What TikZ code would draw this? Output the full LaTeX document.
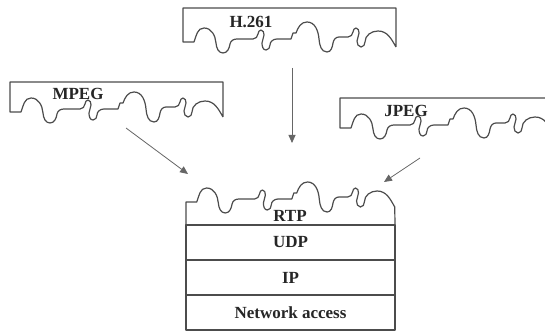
\documentclass[tikz,border=0pt]{standalone}
\usepackage{fontspec}
\setmainfont{Liberation Serif}
\usetikzlibrary{positioning, arrows.meta}

\newcommand{\tornedge}{-- (11,0) to[out=70,in=180] (21,-14) to[out=0,in=95] (33,1)
  to[out=-85,in=180] (40,11) to[out=0,in=-100] (47,2) to[out=80,in=180] (54,-3) -- (70,-3)
  to[out=0,in=-100] (75,-8) to[out=80,in=180] (78,-12) to[out=0,in=90] (81,-7)
  to[out=-90,in=90] (79,1) to[out=-90,in=180] (83,8) to[out=0,in=-90] (87,3)
  to[out=90,in=180] (94,-3) -- (108,-3) -- (110,-9) -- (113,-9)
  to[out=70,in=180] (124,-20) to[out=0,in=95] (136,-3) to[out=-85,in=180] (144,10)
  to[out=0,in=-100] (150,1) to[out=80,in=180] (156,-5) -- (165,-5)
  to[out=0,in=-100] (170,-10) to[out=80,in=180] (173,-14) to[out=0,in=90] (176,-9)
  to[out=-90,in=90] (174,-1) to[out=-90,in=180] (178,5) to[out=0,in=-90] (182,0)
  to[out=90,in=180] (195,-11) to[out=0,in=120] (213,5)}

\begin{document}
\begin{tikzpicture}[x=1pt, y=-1pt,
    ink/.style={draw=black!70, line width=1.2pt, line join=round},
    codec/.style={font=\bfseries\fontsize{17}{20}\selectfont, text=black!85, inner sep=0pt},
    stacklayer/.style={ink, rectangle, minimum width=209pt, minimum height=35pt,
    outer sep=0pt, inner sep=0pt, font=\bfseries\fontsize{17}{20}\selectfont, text=black!85},
    arrow/.style={draw=black!60, line width=0.8pt, -{Triangle[length=8pt, width=7pt]}}
]
\useasboundingbox (0,0) rectangle (545,331);
\fill[white] (0,0) rectangle (545,331);
\clip (0,0) rectangle (545,331);

\begin{scope}[shift={(183,42)}]
\draw[ink] (213,5) -- (213,-34) -- (0,-34) -- (0,0) \tornedge;
\node[codec] (h261) at (68,-20) {H.261};
\end{scope}

\begin{scope}[shift={(10,112)}]
\draw[ink] (213,5) -- (213,-30) -- (0,-30) -- (0,0) \tornedge;
\node[codec] (mpeg) at (68,-18) {MPEG};
\end{scope}

\begin{scope}[shift={(340,128)}]
\draw[ink] (213,5) -- (213,-30) -- (0,-30) -- (0,0) \tornedge;
\node[codec] (jpeg) at (66,-17) {JPEG};
\end{scope}

\node[stacklayer] (udp) at (290.5,242.5) {UDP};
\node[stacklayer, below=0pt of udp] (ip) {IP};
\node[stacklayer, below=0pt of ip] (net) {Network access};
\begin{scope}[shift={(186,202)}, xscale=0.98]
\draw[ink] (udp.north west) -- (0,0) \tornedge -- (udp.north east);
\end{scope}
\node[codec] (rtp) at (290,216) {RTP};

\coordinate (h261out) at (292,68);
\coordinate (mpegout) at (126,128);
\coordinate (jpegout) at (420,158);
\coordinate (stacktop) at (292,143);
\coordinate (stackleft) at (188,174);
\coordinate (stackright) at (384,182);

\draw[arrow] (h261out) -- (stacktop);
\draw[arrow] (mpegout) -- (stackleft);
\draw[arrow] (jpegout) -- (stackright);

\end{tikzpicture}
\end{document}
